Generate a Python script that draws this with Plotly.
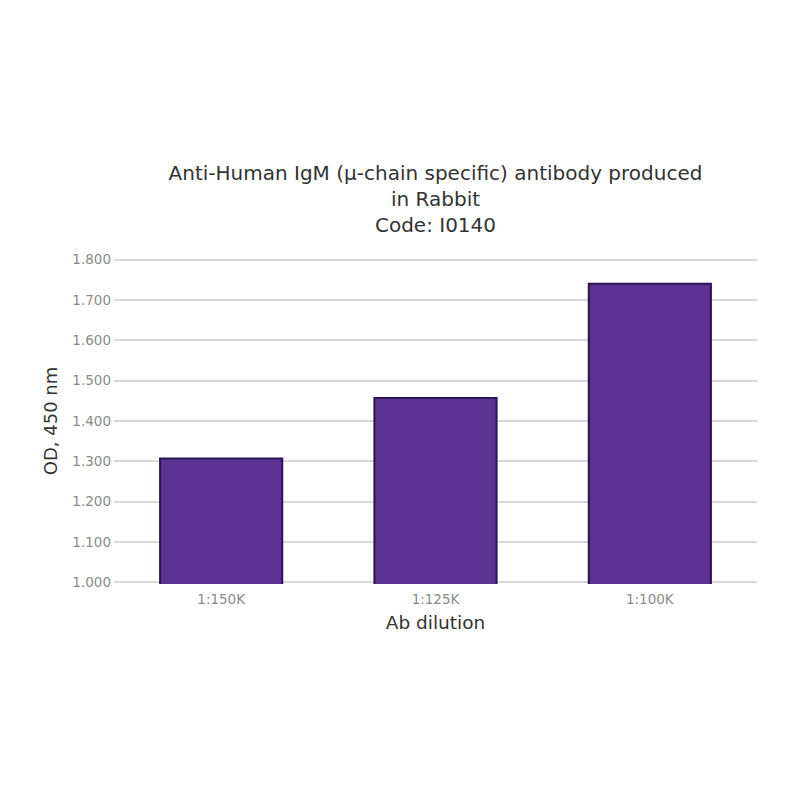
import plotly.graph_objects as go

categories = ["1:150K", "1:125K", "1:100K"]
od_values = [1.307, 1.457, 1.740]
y_ticks = [1.0, 1.1, 1.2, 1.3, 1.4, 1.5, 1.6, 1.7, 1.8]

fig = go.Figure()
fig.add_trace(go.Bar(
    x=categories, y=od_values, base=0,
    marker=dict(color="#5b3192", line=dict(color="#2a1458", width=2)),
    width=0.57,
))

fig.update_layout(
    width=800, height=800,
    paper_bgcolor="white", plot_bgcolor="white",
    margin=dict(l=106, r=51, t=250, b=224),
    font=dict(family="DejaVu Sans", color="#333333"),
    title=dict(
        text="Anti-Human IgM (µ-chain specific) antibody produced<br>in Rabbit<br>Code: I0140",
        x=(106 + 749) / 2 / 800, xanchor="center", y=1 - 172/800, yanchor="top",
        font=dict(size=20, color="#333333"),
    ),
    showlegend=False,
    xaxis=dict(
        title=dict(text="Ab dilution", font=dict(size=18.5, color="#333333"), standoff=10),
        tickfont=dict(size=13.5, color="#8a8a8a"),
        ticklabelstandoff=5,
        showgrid=False, showline=False, ticks="",
    ),
    yaxis=dict(
        title=dict(text="OD, 450 nm", font=dict(size=18, color="#333333"), standoff=10),
        range=[0.996, 1.804], tickvals=y_ticks, tickformat=".3f",
        tickfont=dict(size=13.5, color="#8a8a8a"),
        ticklabelstandoff=2,
        showgrid=True, gridcolor="#d9d9d9", gridwidth=1.5,
        zeroline=False, showline=False, ticks="",
    ),
)

fig.write_html("out.html")
